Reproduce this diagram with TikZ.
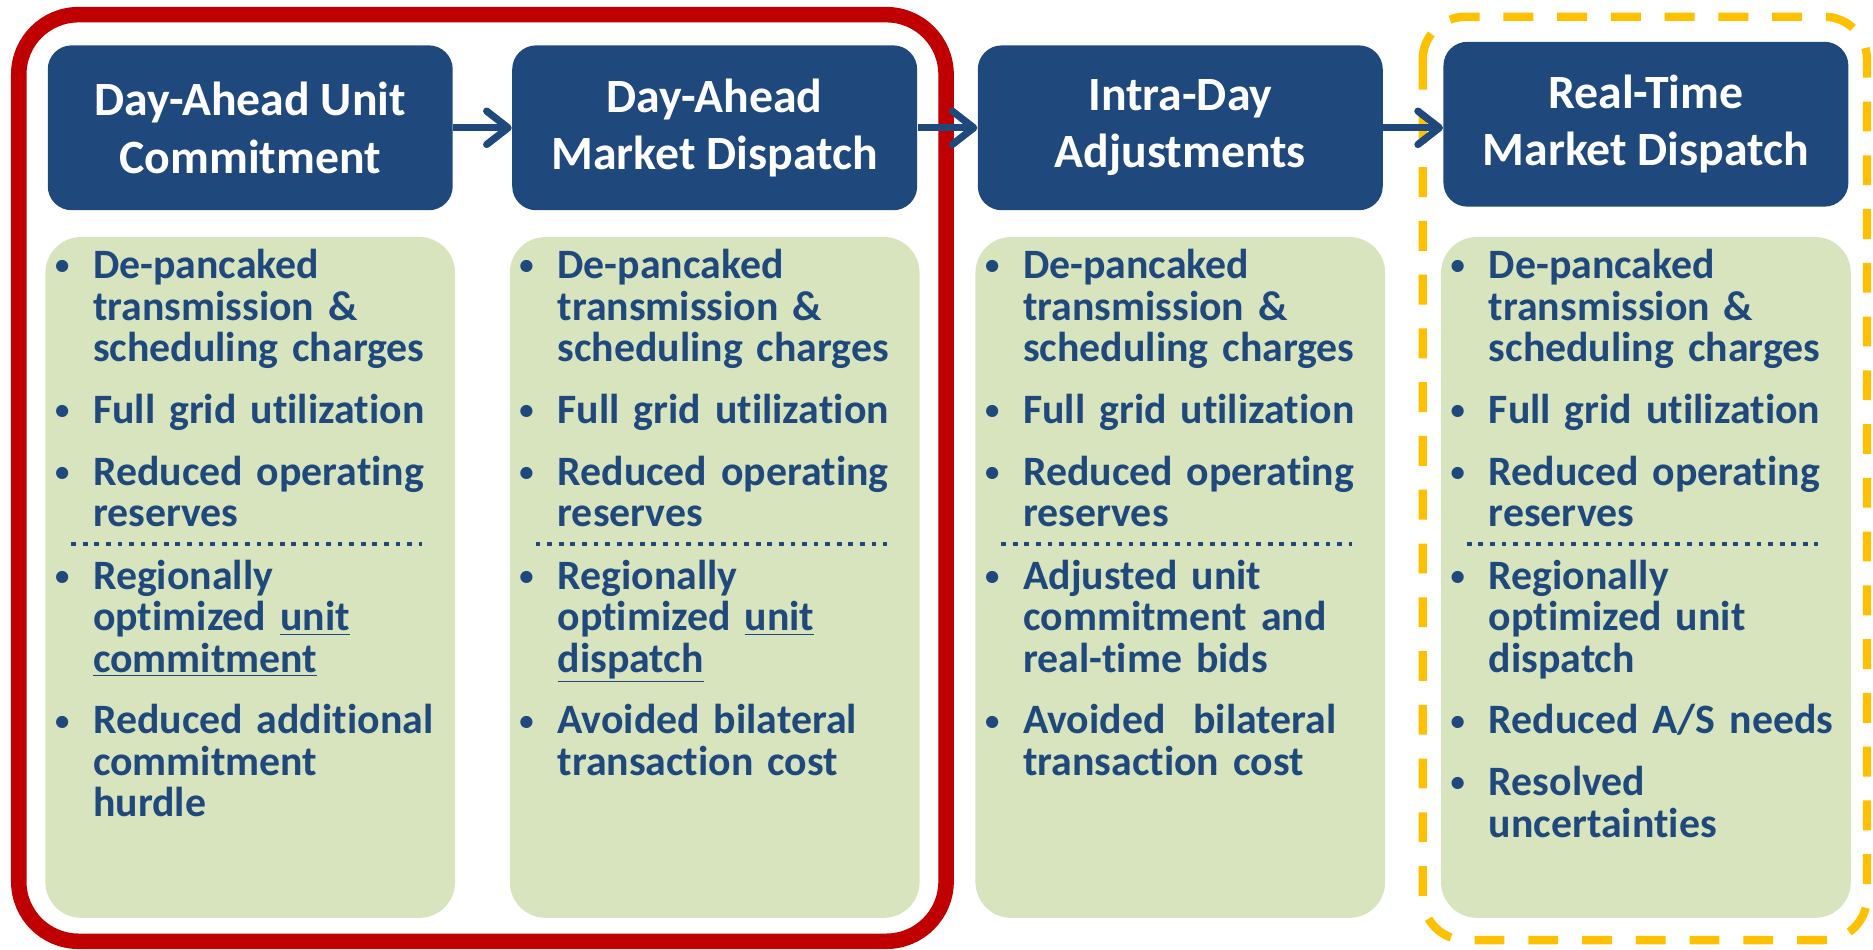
\documentclass[tikz,border=0pt]{standalone}
\usepackage{fontspec}
\setmainfont{Carlito}[RawFeature={-liga;-clig;-calt;-dlig}]
\usepackage{tikz}
\usetikzlibrary{arrows.meta,positioning,calc}
\definecolor{cNavy}{HTML}{1F497D}
\definecolor{cSage}{HTML}{D7E4BD}
\definecolor{cRed}{HTML}{C00000}
\definecolor{cGold}{HTML}{FFC000}
\newcommand\bul{\noindent\llap{\raisebox{1.6pt}{\fontsize{12}{12}\selectfont\textbullet}\hspace{10pt}}}
\newcommand\nxt{\par\vspace{8.6pt}}
\tikzset{
  hdr/.style={rounded corners=10pt,fill=cNavy,text=white,inner sep=0pt,
              minimum width=169.5pt,minimum height=69pt,align=center,
              font=\fontsize{20}{24}\selectfont\bfseries},
  pnl/.style={rounded corners=15pt,fill=cSage,inner sep=0pt,
              minimum width=171.5pt,minimum height=285pt},
  pts/.style={anchor=base west,inner sep=0pt,text width=152pt,align=left,
              text=cNavy,font=\fontsize{17.5}{17.3}\selectfont\bfseries},
  sep/.style={cNavy,line width=2pt,dash pattern=on 2pt off 2.85pt},
  redframe/.style={cRed,line width=6.5pt,rounded corners=25pt},
  goldframe/.style={cGold,line width=3.5pt,rounded corners=18pt,
              dash pattern=on 12.5pt off 10pt},
  flow/.style={-{Straight Barb[length=9pt,width=14pt,round]},line width=3pt,cNavy},
}
\begin{document}
\begin{tikzpicture}[x=0.5pt,y=-0.5pt]
  \useasboundingbox (0,0) rectangle (1568,795);
  % headers
  \node[hdr] (dauc) at (209.5,107) {Day-Ahead Unit\\Commitment};
  \node[hdr,right=24.5pt of dauc] (dam) {Day-Ahead\\Market Dispatch};
  \node[hdr,right=25pt of dam] (ida) {Intra-Day\\Adjustments};
  \node[hdr,right=25pt of ida,yshift=1.5pt] (rtm) {Real-Time\\Market Dispatch};
  % panels
  \node[pnl,below=10.8pt of dauc] (pnl1) {};
  \node[pnl,below=10.8pt of dam] (pnl2) {};
  \node[pnl,below=10.8pt of ida] (pnl3) {};
  \node[pnl,below=12.3pt of rtm] (pnl4) {};
  % upper lists
  \node[pts] (up1) at ($(pnl1.north west)+(20pt,-17.7pt)$)
    {\bul De-pancaked\\ transmission \&\\ scheduling charges\nxt
     \bul Full grid utilization\nxt
     \bul Reduced operating\\ reserves};
  \node[pts] (up2) at ($(pnl2.north west)+(20pt,-17.7pt)$)
    {\bul De-pancaked\\ transmission \&\\ scheduling charges\nxt
     \bul Full grid utilization\nxt
     \bul Reduced operating\\ reserves};
  \node[pts] (up3) at ($(pnl3.north west)+(20pt,-17.7pt)$)
    {\bul De-pancaked\\ transmission \&\\ scheduling charges\nxt
     \bul Full grid utilization\nxt
     \bul Reduced operating\\ reserves};
  \node[pts] (up4) at ($(pnl4.north west)+(20pt,-17.7pt)$)
    {\bul De-pancaked\\ transmission \&\\ scheduling charges\nxt
     \bul Full grid utilization\nxt
     \bul Reduced operating\\ reserves};
  % separators
  \draw[sep] ($(pnl1.north west)+(11pt,-128.7pt)$) -- ($(pnl1.north east)+(-14pt,-128.7pt)$);
  \draw[sep] ($(pnl2.north west)+(11pt,-128.7pt)$) -- ($(pnl2.north east)+(-14pt,-128.7pt)$);
  \draw[sep] ($(pnl3.north west)+(11pt,-128.7pt)$) -- ($(pnl3.north east)+(-14pt,-128.7pt)$);
  \draw[sep] ($(pnl4.north west)+(11pt,-128.7pt)$) -- ($(pnl4.north east)+(-14pt,-128.7pt)$);
  % lower lists
  \node[pts] (lo1) at ($(pnl1.north west)+(20pt,-147.7pt)$)
    {\bul Regionally\\ optimized \underline{unit}\\ \underline{commitment}\nxt
     \bul Reduced additional\\ commitment\\ hurdle};
  \node[pts] (lo2) at ($(pnl2.north west)+(20pt,-147.7pt)$)
    {\bul Regionally\\ optimized \underline{unit}\\ \underline{dispatch}\nxt
     \bul Avoided bilateral\\ transaction cost};
  \node[pts] (lo3) at ($(pnl3.north west)+(20pt,-147.7pt)$)
    {\bul Adjusted unit\\ commitment and\\ real-time bids\nxt
     \bul Avoided\ \ bilateral\\ transaction cost};
  \node[pts] (lo4) at ($(pnl4.north west)+(20pt,-147.7pt)$)
    {\bul Regionally\\ optimized unit\\ dispatch\nxt
     \bul Reduced A/S needs\nxt
     \bul Resolved\\ uncertainties};
  % frames
  \draw[redframe] (15.7,12.3) rectangle (792,788);
  \draw[goldframe] (1191,14) rectangle (1563,787);
  % flow
  \draw[flow] (dauc) -- (dam);
  \draw[flow] (dam) -- (ida);
  \draw[flow] (ida.east) -- (ida.east -| rtm.west);
\end{tikzpicture}
\end{document}
